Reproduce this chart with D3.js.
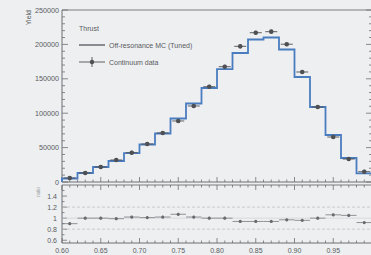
<!DOCTYPE html>
<html><head><meta charset="utf-8">
<script src="https://cdn.jsdelivr.net/npm/d3@7"></script>
<style>
body{margin:0;background:#edeff1;}
svg{display:block;font-family:"Liberation Sans",Arial,sans-serif;}
</style></head><body>
<svg id="c" width="371" height="255"></svg>
<script>
// ---- data ----
const binEdgesStart = 0.60;
const binWidth = 0.02;
const mcYield = [5100,13100,21800,30500,42100,54500,70500,92300,114100,136600,164200,187500,207100,210000,192600,152600,109000,68300,34900,12400];
const dataYield = [5800,13100,21800,32000,42600,55200,71200,88700,110500,138500,167600,197200,217000,218500,200300,159900,109000,65400,33400,15000];
const ratio = [0.90,1.00,1.00,0.99,1.02,1.01,1.02,1.07,1.02,1.00,1.00,0.94,0.94,0.94,0.97,0.96,1.00,1.06,1.05,0.92];
const yTicks = [0,50000,100000,150000,200000,250000];
const xTicks = [0.60,0.65,0.70,0.75,0.80,0.85,0.90,0.95];
const rTicks = [0.6,0.8,1,1.2,1.4];
const legendTitle = "Thrust";
const legendItems = ["Off-resonance MC (Tuned)","Continuum data"];

const svg = d3.select("#c");
const axisCol = "#6e6f72", textCol = "#5a5b5e", histCol = "#4a7dc0", dataCol = "#4f5054";
const x = d3.scaleLinear().domain([0.6,1.0]).range([62,372]);
const y = d3.scaleLinear().domain([0,250000]).range([182,10]);
const yr = d3.scaleLinear().domain([0.55,1.6]).range([243,185]);

const bins = mcYield.map((v,i)=>({x0:binEdgesStart+i*binWidth, x1:binEdgesStart+(i+1)*binWidth, mc:v, d:dataYield[i], r:ratio[i]}));

function frame(y0,y1){
  svg.append("line").attr("x1",x(0.6)).attr("x2",x(0.6)).attr("y1",y0).attr("y2",y1).attr("stroke",axisCol).attr("stroke-width",1);
  svg.append("line").attr("x1",x(0.6)).attr("x2",x(1.0)).attr("y1",y1).attr("y2",y1).attr("stroke",axisCol).attr("stroke-width",1);
  svg.append("line").attr("x1",x(0.6)).attr("x2",x(1.0)).attr("y1",y0).attr("y2",y0).attr("stroke",axisCol).attr("stroke-width",0.9);
}
frame(10,182);
frame(185,243);

const yMinor = d3.range(0,250001,10000);
svg.append("g").selectAll("line").data(yMinor).join("line")
  .attr("x1",x(0.6)).attr("x2",d=>x(0.6)+(d%50000===0?6:3))
  .attr("y1",d=>y(d)).attr("y2",d=>y(d)).attr("stroke",axisCol).attr("stroke-width",0.8);
svg.append("g").selectAll("line").data(yMinor).join("line")
  .attr("x1",x(1.0)).attr("x2",d=>x(1.0)-(d%50000===0?6:3))
  .attr("y1",d=>y(d)).attr("y2",d=>y(d)).attr("stroke",axisCol).attr("stroke-width",0.8);
svg.append("g").selectAll("text").data(yTicks).join("text")
  .attr("x",59).attr("y",d=>y(d)+2.5).attr("text-anchor","end")
  .attr("font-size",7.2).attr("fill",textCol).text(d=>d);

const xMinor = d3.range(60,100,1).map(d=>d/100);
function xTickRow(yy,dir){
  svg.append("g").selectAll("line").data(xMinor).join("line")
    .attr("x1",d=>x(d)).attr("x2",d=>x(d))
    .attr("y1",yy).attr("y2",d=>yy+dir*((Math.round(d*100)%5===0)?5:2.5))
    .attr("stroke",axisCol).attr("stroke-width",0.8);
}
xTickRow(182,-1);
xTickRow(243,-1);
xTickRow(185,1);
svg.append("g").selectAll("text").data(xTicks).join("text")
  .attr("x",d=>x(d)).attr("y",253).attr("text-anchor","middle")
  .attr("font-size",7).attr("fill",textCol).text(d=>d.toFixed(2));

const rMinor = d3.range(6,16,1).map(d=>d/10);
svg.append("g").selectAll("line").data(rMinor).join("line")
  .attr("x1",x(0.6)).attr("x2",d=>x(0.6)+(Math.round(d*10)%2===0?5:2.5))
  .attr("y1",d=>yr(d)).attr("y2",d=>yr(d)).attr("stroke",axisCol).attr("stroke-width",0.8);
svg.append("g").selectAll("text").data(rTicks).join("text")
  .attr("x",57).attr("y",d=>yr(d)+2.5).attr("text-anchor","end")
  .attr("font-size",7).attr("fill",textCol).text(d=>d);
[0.8,1.2].forEach(v=>{
  svg.append("line").attr("x1",x(0.6)).attr("x2",x(1.0)).attr("y1",yr(v)).attr("y2",yr(v))
    .attr("stroke","#b9bcc0").attr("stroke-width",0.7).attr("stroke-dasharray","3,2");
});
svg.append("line").attr("x1",x(0.6)).attr("x2",x(1.0)).attr("y1",yr(1)).attr("y2",yr(1))
  .attr("stroke","#c9cbce").attr("stroke-width",0.6);

svg.append("text").attr("transform",`translate(31,10) rotate(-90)`).attr("text-anchor","end")
  .attr("font-size",7).attr("fill",textCol).text("Yield");
svg.append("text").attr("transform",`translate(40,187) rotate(-90)`).attr("text-anchor","end")
  .attr("font-size",5).attr("fill","#9a9ca0").text("ratio");

const stepPts = [];
stepPts.push([x(bins[0].x0), y(0)]);
bins.forEach(b=>{ stepPts.push([x(b.x0),y(b.mc)]); stepPts.push([x(b.x1),y(b.mc)]); });
stepPts.push([x(bins[bins.length-1].x1), y(0)]);
svg.append("path").attr("d",d3.line()(stepPts)).attr("fill","none")
  .attr("stroke",histCol).attr("stroke-width",1.8);

const g = svg.append("g");
bins.forEach(b=>{
  const cx = x((b.x0+b.x1)/2), cy = y(b.d);
  g.append("line").attr("x1",cx-6).attr("x2",cx+6).attr("y1",cy).attr("y2",cy).attr("stroke",dataCol).attr("stroke-width",0.9);
  g.append("line").attr("x1",cx).attr("x2",cx).attr("y1",cy-2).attr("y2",cy+2).attr("stroke",dataCol).attr("stroke-width",0.9);
  g.append("circle").attr("cx",cx).attr("cy",cy).attr("r",2.3).attr("fill",dataCol);
});
bins.forEach(b=>{
  const cx = x((b.x0+b.x1)/2), cy = yr(b.r);
  g.append("line").attr("x1",x(b.x0)).attr("x2",x(b.x1)).attr("y1",cy).attr("y2",cy).attr("stroke","#7a7b7f").attr("stroke-width",0.8);
  g.append("line").attr("x1",cx).attr("x2",cx).attr("y1",cy-1.5).attr("y2",cy+1.5).attr("stroke","#7a7b7f").attr("stroke-width",0.8);
  g.append("circle").attr("cx",cx).attr("cy",cy).attr("r",1.6).attr("fill","#6a6b6f");
});

svg.append("text").attr("x",79).attr("y",31).attr("font-size",7).attr("fill",textCol).text(legendTitle);
svg.append("line").attr("x1",79).attr("x2",105).attr("y1",45).attr("y2",45).attr("stroke","#5d6068").attr("stroke-width",1.4);
svg.append("text").attr("x",109).attr("y",47.5).attr("font-size",7).attr("fill",textCol).text(legendItems[0]);
svg.append("line").attr("x1",79).attr("x2",105).attr("y1",62).attr("y2",62).attr("stroke",dataCol).attr("stroke-width",0.9);
svg.append("line").attr("x1",92).attr("x2",92).attr("y1",57).attr("y2",67).attr("stroke",dataCol).attr("stroke-width",0.9);
svg.append("circle").attr("cx",92).attr("cy",62).attr("r",2.2).attr("fill",dataCol);
svg.append("text").attr("x",109).attr("y",64.5).attr("font-size",7).attr("fill",textCol).text(legendItems[1]);
</script>
</body></html>
